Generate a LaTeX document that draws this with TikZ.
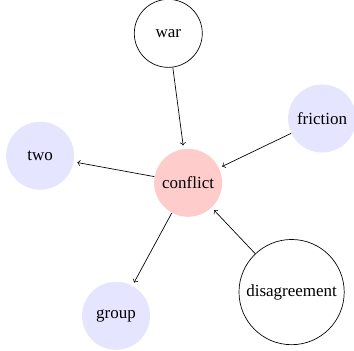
\documentclass[tikz,border=0pt]{standalone}
\usepackage{fontspec}
\setmainfont{Liberation Serif}
\begin{document}
\begin{tikzpicture}[
	word/.style={circle,minimum size=40pt,inner sep=3.33pt},
	plain/.style={word,draw},
	hub/.style={word,fill=red!20},
	leaf/.style={word,fill=blue!10},
	link/.style={->,shorten >=2pt}]
	\useasboundingbox (-3.89,-3.47) rectangle (3.43,3.78);
		\node[hub] (conflict) at (0,0) {conflict};
		\node[plain] (war) at (-0.41,3.09) {war};
		\node[leaf] (friction) at (2.77,1.33) {friction};
		\node[leaf] (two) at (-3.06,0.56) {two};
		\node[leaf] (group) at (-1.49,-2.75) {group};
		\node[plain] (disagreement) at (2.14,-2.26) {disagreement};
		\draw[link] (war) -- (conflict);
		\draw[link] (friction) -- (conflict);
		\draw[link] (disagreement) -- (conflict);
		\draw[link] (conflict) -- (two);
		\draw[link] (conflict) -- (group);
	\end{tikzpicture}
\end{document}
